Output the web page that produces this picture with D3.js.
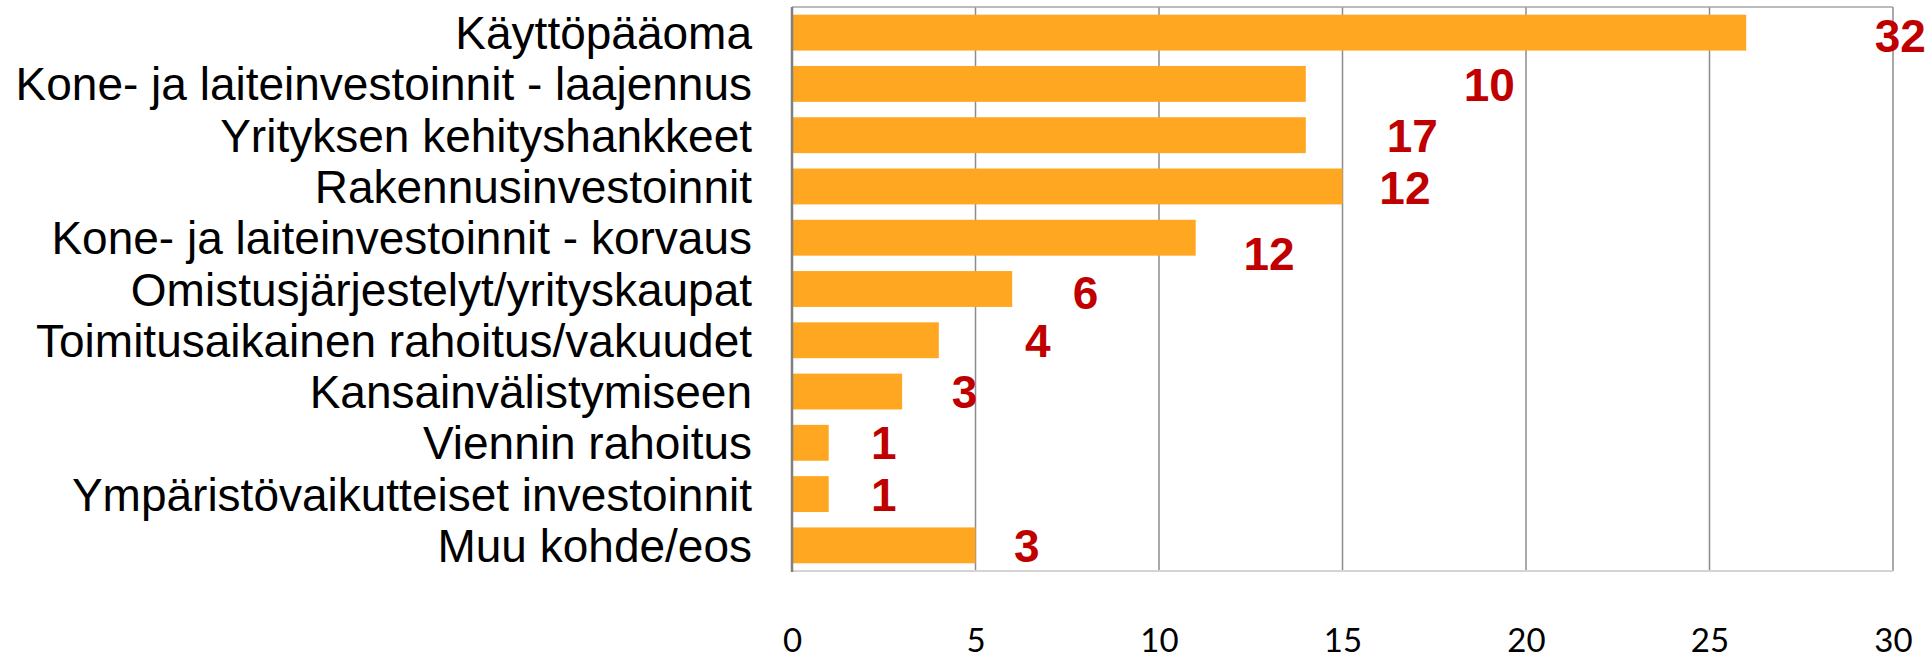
<!DOCTYPE html>
<html>
<head>
<meta charset="utf-8">
<script src="https://cdn.jsdelivr.net/npm/d3@7"></script>
<style>
  body { margin: 0; background: #fff; }
  .catLabel { font-family: "Liberation Sans", Arial, sans-serif; font-size: 46px; fill: #000; }
  .valLabel { font-family: "Liberation Sans", Arial, sans-serif; font-size: 46px; font-weight: bold; fill: #c00000; }
  .axis text { font-family: Lato, "Open Sans", sans-serif; font-size: 33px; fill: #000; }
  .gridLines { stroke: #8c8c8c; stroke-width: 1.5; }
</style>
</head>
<body>
<script>
(function(){

//categories, top to bottom
var categories = [
  "Käyttöpääoma",
  "Kone- ja laiteinvestoinnit - laajennus",
  "Yrityksen kehityshankkeet",
  "Rakennusinvestoinnit",
  "Kone- ja laiteinvestoinnit - korvaus",
  "Omistusjärjestelyt/yrityskaupat",
  "Toimitusaikainen rahoitus/vakuudet",
  "Kansainvälistymiseen",
  "Viennin rahoitus",
  "Ympäristövaikutteiset investoinnit",
  "Muu kohde/eos"
];
//bar lengths as drawn
var barValues = [26, 14, 14, 15, 11, 6, 4, 3, 1, 1, 5];
//red numbers written next to the bars
var labelValues = [32, 10, 17, 12, 12, 6, 4, 3, 1, 1, 3];
//where each red number sits, in axis units (placed by hand in the original)
var labelAt = [30.2, 19, 16.9, 16.7, 13, 8, 6.7, 4.7, 2.5, 2.5, 6.4];
var labelDrop = [3, 1, 0, 1, 16, 3, 0, 0, 0, 0, 0];
//axis ticks
var tickValues = [0, 5, 10, 15, 20, 25, 30];

var width = 1926,
    height = 661,
    plotLeft = 792,
    plotRight = 1893,
    plotTop = 7,
    plotBottom = 571;

var svg = d3.select("body")
    .append("svg")
    .attr("width", width)
    .attr("height", height);

var x = d3.scaleLinear()
    .domain([0, 30])
    .range([plotLeft, plotRight]);

var y = d3.scaleBand()
    .domain(categories)
    .range([plotTop, plotBottom])
    .paddingInner(0.3)
    .paddingOuter(0.15);

//vertical gridlines
svg.selectAll(".gridLines")
    .data(tickValues.slice(1))
    .enter()
    .append("line")
    .attr("class", "gridLines")
    .attr("x1", function(d){ return x(d); })
    .attr("x2", function(d){ return x(d); })
    .attr("y1", plotTop)
    .attr("y2", plotBottom);

//top and bottom frame lines
svg.append("line")
    .attr("x1", plotLeft).attr("x2", plotRight)
    .attr("y1", plotTop).attr("y2", plotTop)
    .style("stroke", "#a6a6a6").style("stroke-width", 1.5);
svg.append("line")
    .attr("x1", plotLeft).attr("x2", plotRight)
    .attr("y1", plotBottom).attr("y2", plotBottom)
    .style("stroke", "#d4d4d4").style("stroke-width", 2);

//bars
svg.selectAll(".bar")
    .data(barValues)
    .enter()
    .append("rect")
    .attr("class", "bar")
    .attr("x", x(0))
    .attr("y", function(d, i){ return y(categories[i]); })
    .attr("width", function(d){ return x(d) - x(0); })
    .attr("height", y.bandwidth())
    .style("fill", "#ffa721");

//left axis line
svg.append("line")
    .attr("x1", plotLeft).attr("x2", plotLeft)
    .attr("y1", plotTop).attr("y2", plotBottom + 1)
    .style("stroke", "#808080").style("stroke-width", 2.5);

//category labels
svg.selectAll(".catLabel")
    .data(categories)
    .enter()
    .append("text")
    .attr("class", "catLabel")
    .attr("x", plotLeft - 40)
    .attr("y", function(d){ return y(d) + y.bandwidth() / 2; })
    .attr("dy", "0.36em")
    .attr("text-anchor", "end")
    .text(function(d){ return d; });

//value labels
svg.selectAll(".valLabel")
    .data(labelValues)
    .enter()
    .append("text")
    .attr("class", "valLabel")
    .attr("x", function(d, i){ return x(labelAt[i]); })
    .attr("y", function(d, i){ return y(categories[i]) + y.bandwidth() / 2 + labelDrop[i]; })
    .attr("dy", "0.36em")
    .attr("text-anchor", "middle")
    .text(function(d){ return d; });

//bottom axis, numbers only
var xAxis = d3.axisBottom(x)
    .tickValues(tickValues)
    .tickSize(0)
    .tickPadding(58);

svg.append("g")
    .attr("class", "axis")
    .attr("transform", "translate(0," + plotBottom + ")")
    .call(xAxis)
    .call(function(g){ g.select(".domain").remove(); });

})();
</script>
</body>
</html>
